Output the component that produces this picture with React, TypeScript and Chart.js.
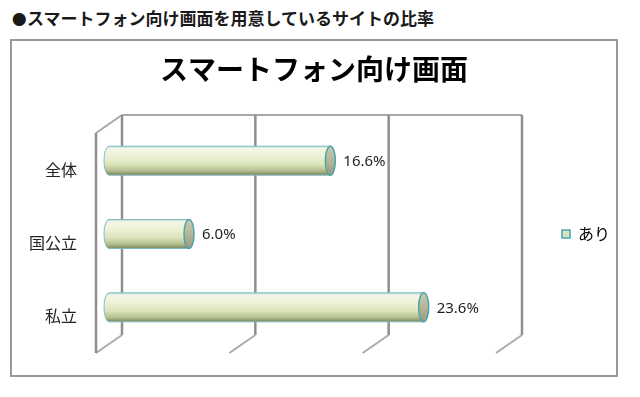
import { useEffect, useRef } from 'react';
import { Chart, registerables } from 'chart.js';

Chart.register(...registerables);

const HEADER_MARK = '●';
const HEADER = 'スマートフォン向け画面を用意しているサイトの比率';
const TITLE = 'スマートフォン向け画面';
const CATEGORIES = ['全体', '国公立', '私立'];
const SERIES_LABEL = 'あり';
const VALUES = [16.6, 6.0, 23.6];
const X_MIN = 0;
const X_MAX = 30;
const X_STEP = 10;

const DX = 13;
const DY = 9;

const frame3d = {
  id: 'frame3d',
  beforeDatasetsDraw(chart: any) {
    const { ctx, chartArea, scales } = chart;
    const xs = scales.x;
    const top = chartArea.top;
    const bottom = chartArea.bottom;
    const vals: number[] = xs.ticks.map((t: any) => t.value);
    const p0 = xs.getPixelForValue(X_MIN);
    const pMax = xs.getPixelForValue(X_MAX);
    const line = (x1: number, y1: number, x2: number, y2: number) => {
      ctx.beginPath();
      ctx.moveTo(x1, y1);
      ctx.lineTo(x2, y2);
      ctx.stroke();
    };
    ctx.save();
    // floor
    ctx.strokeStyle = '#aaaaaa';
    ctx.lineWidth = 2;
    vals.forEach((v) => {
      const p = xs.getPixelForValue(v);
      line(p + DX, bottom - DY, p - DX, bottom + DY);
    });
    // top edge
    ctx.strokeStyle = '#a8a8a8';
    ctx.lineWidth = 2;
    line(p0 + DX, top - DY, pMax + DX, top - DY);
    line(p0 - DX, top + DY, p0 + DX, top - DY);
    // back walls
    ctx.strokeStyle = '#8e8e8e';
    ctx.lineWidth = 2.5;
    vals.forEach((v) => {
      const p = xs.getPixelForValue(v);
      line(p + DX, top - DY, p + DX, bottom - DY);
    });
    // left front wall
    line(p0 - DX, top + DY, p0 - DX, bottom + DY);

    // cylinders
    const meta = chart.getDatasetMeta(0);
    meta.data.forEach((el: any, i: number) => {
      const { x, y, base, height } = el.getProps(['x', 'y', 'base', 'height'], true);
      const ry = height / 2;
      const rx = 5;
      const g = ctx.createLinearGradient(0, y - ry, 0, y + ry);
      g.addColorStop(0, '#b9dad6');
      g.addColorStop(0.08, '#f3f6e6');
      g.addColorStop(0.35, '#edf2d6');
      g.addColorStop(0.62, '#dbe4bb');
      g.addColorStop(0.84, '#b6c08f');
      g.addColorStop(1, '#7a8660');
      ctx.beginPath();
      ctx.moveTo(base, y - ry);
      ctx.lineTo(x, y - ry);
      ctx.lineTo(x, y + ry);
      ctx.lineTo(base, y + ry);
      ctx.ellipse(base, y, rx, ry, 0, Math.PI / 2, (3 * Math.PI) / 2);
      ctx.closePath();
      ctx.fillStyle = g;
      ctx.fill();
      ctx.strokeStyle = '#7fbcc4';
      ctx.lineWidth = 1;
      ctx.stroke();
      // cap
      const cg = ctx.createLinearGradient(0, y - ry, 0, y + ry);
      cg.addColorStop(0, '#c9cbb0');
      cg.addColorStop(0.5, '#b4b697');
      cg.addColorStop(1, '#9a9d7d');
      ctx.beginPath();
      ctx.ellipse(x, y, rx, ry, 0, 0, Math.PI * 2);
      ctx.fillStyle = cg;
      ctx.fill();
      ctx.strokeStyle = '#4fa3ad';
      ctx.lineWidth = 1.5;
      ctx.stroke();
      // value label
      ctx.fillStyle = '#1e1e1e';
      ctx.font = '15px "Noto Sans", sans-serif';
      ctx.textAlign = 'left';
      ctx.textBaseline = 'middle';
      ctx.fillText(VALUES[i].toFixed(1) + '%', x + 13, y + 1);
    });
    ctx.restore();
    return false;
  },
};

export default function App() {
  const ref = useRef<HTMLCanvasElement>(null);
  useEffect(() => {
    const chart = new Chart(ref.current as HTMLCanvasElement, {
      type: 'bar',
      data: {
        labels: CATEGORIES,
        datasets: [
          {
            label: SERIES_LABEL,
            data: VALUES,
            backgroundColor: '#d7e4bd',
            borderColor: '#4aa3b5',
            borderWidth: 1,
            barThickness: 29,
          },
        ],
      },
      options: {
        indexAxis: 'y',
        responsive: false,
        animation: false,
        devicePixelRatio: 1,
        layout: { padding: { top: 0, left: 0, right: 0, bottom: 31 } },
        scales: {
          x: {
            type: 'linear',
            min: X_MIN,
            max: X_MAX,
            display: false,
            ticks: { stepSize: X_STEP },
          },
          y: {
            grid: { display: false, drawTicks: false },
            border: { display: false },
            ticks: {
              padding: 32,
              labelOffset: 9,
              color: '#222',
              font: { family: '"Noto Sans CJK JP"', size: 16 },
            },
            afterFit: (scale: any) => {
              scale.width = 97;
              scale.paddingTop = 0;
              scale.paddingBottom = 0;
            },
          },
        },
        plugins: {
          title: {
            display: true,
            text: TITLE,
            color: '#000',
            font: { family: '"Noto Sans CJK JP"', size: 28, weight: 'bold' },
            padding: { top: 12, bottom: 37.4 },
          },
          legend: {
            position: 'right',
            fullSize: false,
            maxWidth: 107,
            labels: {
              boxWidth: 8,
              boxHeight: 8,
              padding: 53,
              color: '#222',
              font: { family: '"Noto Sans CJK JP"', size: 16 },
              generateLabels: () => [
                {
                  text: SERIES_LABEL,
                  fillStyle: '#d7e4bd',
                  strokeStyle: '#4aa3b5',
                  lineWidth: 1.5,
                  hidden: false,
                  datasetIndex: 0,
                },
              ],
            },
          },
          tooltip: { enabled: false },
        },
      },
      plugins: [frame3d],
    } as any);
    return () => chart.destroy();
  }, []);

  return (
    <div
      style={{
        position: 'fixed',
        left: 0,
        top: 0,
        width: 640,
        height: 397,
        background: '#fff',
        overflow: 'hidden',
      }}
    >
      <div
        style={{
          position: 'absolute',
          left: 12,
          top: 8,
          font: 'bold 17px "Noto Sans CJK JP"',
          lineHeight: '20px',
          color: '#1a1a1a',
          whiteSpace: 'nowrap',
        }}
      >
        <span style={{ display: 'inline-block', width: 15, fontSize: 14.5 }}>{HEADER_MARK}</span>
        {HEADER}
      </div>
      <div
        style={{
          position: 'absolute',
          left: 10,
          top: 39,
          width: 608,
          height: 338,
          boxSizing: 'border-box',
          border: '2px solid #999',
        }}
      >
        <canvas ref={ref} width={604} height={334} style={{ display: 'block', width: 604, height: 334 }} />
      </div>
    </div>
  );
}
